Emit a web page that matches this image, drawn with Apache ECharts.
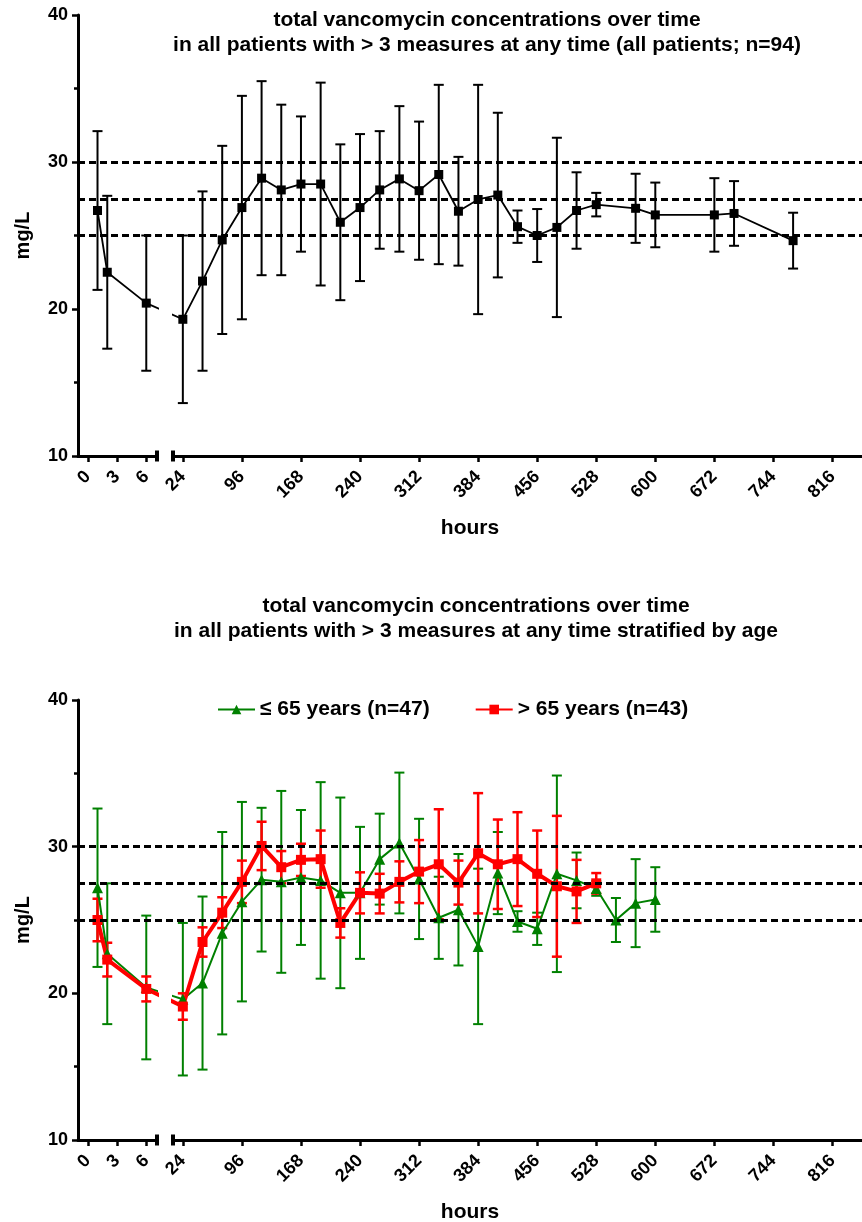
<!DOCTYPE html>
<html>
<head>
<meta charset="utf-8">
<script src="https://cdn.jsdelivr.net/npm/echarts@6/dist/echarts.min.js"></script>
<style>
  html, body { margin: 0; padding: 0; background: #fff; }
  #chart { width: 862px; height: 1222px; }
</style>
</head>
<body>
<div id="chart"></div>
<script>
// ---- data (hours, mean mg/L, SD) ----
const hoursAll = [1, 2, 6, 24, 48, 72, 96, 120, 144, 168, 192, 216, 240, 264, 288, 312, 336, 360, 384, 408, 432, 456, 480, 504, 528, 576, 600, 672, 696, 768];
const meanAll  = [26.7, 22.5, 20.4, 19.3, 21.9, 24.7, 26.9, 28.9, 28.1, 28.5, 28.5, 25.9, 26.9, 28.1, 28.85, 28.05, 29.15, 26.65, 27.45, 27.75, 25.6, 25.0, 25.55, 26.7, 27.1, 26.85, 26.4, 26.4, 26.5, 24.65];
const sdAll    = [5.4, 5.2, 4.6, 5.7, 6.1, 6.4, 7.6, 6.6, 5.8, 4.6, 6.9, 5.3, 5.0, 4.0, 4.95, 4.7, 6.1, 3.7, 7.8, 5.6, 1.1, 1.8, 6.1, 2.6, 0.8, 2.35, 2.2, 2.5, 2.2, 1.9];

const hoursYoung = [1, 2, 6, 24, 48, 72, 96, 120, 144, 168, 192, 216, 240, 264, 288, 312, 336, 360, 384, 408, 432, 456, 480, 504, 528, 552, 576, 600];
const meanYoung  = [27.2, 22.7, 20.4, 19.6, 20.7, 24.1, 26.25, 27.75, 27.6, 27.9, 27.7, 26.85, 26.85, 29.15, 30.25, 27.8, 25.15, 25.7, 23.2, 28.2, 24.9, 24.4, 28.15, 27.7, 27.15, 25.0, 26.15, 26.4];
const sdYoung    = [5.4, 4.8, 4.9, 5.2, 5.9, 6.9, 6.8, 4.9, 6.2, 4.6, 6.7, 6.5, 4.5, 3.1, 4.8, 4.1, 2.8, 3.8, 5.3, 2.8, 0.7, 1.1, 6.7, 1.9, 0.5, 1.5, 3.0, 2.2];

const hoursOld = [1, 2, 6, 24, 48, 72, 96, 120, 144, 168, 192, 216, 240, 264, 288, 312, 336, 360, 384, 408, 432, 456, 480, 504, 528];
const meanOld  = [25.0, 22.3, 20.3, 19.1, 23.5, 25.5, 27.6, 30.05, 28.6, 29.1, 29.15, 24.8, 26.85, 26.8, 27.6, 28.3, 28.8, 27.55, 29.55, 28.8, 29.15, 28.15, 27.3, 26.95, 27.5];
const sdOld    = [1.45, 1.15, 0.85, 0.9, 1.0, 1.05, 1.45, 1.65, 1.1, 1.1, 1.95, 1.0, 1.4, 1.35, 1.4, 2.15, 3.75, 1.5, 4.1, 3.05, 3.2, 2.95, 4.8, 2.15, 0.7];

const xTicksEarly = [0, 3, 6];
const xTicksLate = [24, 96, 168, 240, 312, 384, 456, 528, 600, 672, 744, 816];
const refLevels = [25, 27.5, 30];

const titleTop = 'total vancomycin concentrations over time\nin all patients with > 3 measures at any time (all patients; n=94)';
const titleBottom = 'total vancomycin concentrations over time\nin all patients with > 3 measures at any time stratified by age';
const nameYoung = '≤ 65 years (n=47)';
const nameOld = '> 65 years (n=43)';

// ---- layout ----
const FONT = '"Liberation Sans", Arial, Helvetica, sans-serif';
const X0 = 78, X1 = 157, X2 = 173, X3 = 862;   // broken x axis: [X0,X1] and [X2,X3]
const seg1 = { min: -1, max: 7.1 };
const seg2 = { min: 12, max: 852 };
const pxH1 = (X1 - X0) / (seg1.max - seg1.min);
const pxH2 = (X3 - X2) / (seg2.max - seg2.min);
// carry a point across the axis break so the connecting line is clipped at the gap
function toSeg1(h) { const px = X2 + (h - seg2.min) * pxH2; return seg1.min + (px - X0) / pxH1; }
function toSeg2(h) { const px = X0 + (h - seg1.min) * pxH1; return seg2.min + (px - X2) / pxH2; }

const grid = [], xAxis = [], yAxis = [], series = [];

const axisLineStyle = { color: '#000', width: 3 };
const tickStyle = { color: '#000', width: 2.5 };
const labelStyle = { color: '#000', fontFamily: FONT, fontWeight: 'bold' };

function addPanel(top, bottom) {
  const h = bottom - top;
  const g = grid.length;
  grid.push({ left: X0, top: top, width: X1 - X0, height: h, outerBoundsMode: 'none' });
  grid.push({ left: X2, top: top, width: X3 - X2, height: h, outerBoundsMode: 'none' });
  grid.push({ left: X0, top: top, width: X3 - X0, height: h, outerBoundsMode: 'none' });

  xAxis.push({
    gridIndex: g, type: 'value', min: seg1.min, max: seg1.max,
    axisLine: { onZero: false, lineStyle: axisLineStyle, symbol: ['none', 'rect'], symbolSize: [11, 4] },
    axisTick: { length: 6, lineStyle: tickStyle, customValues: xTicksEarly },
    axisLabel: Object.assign({ rotate: 45, fontSize: 18, margin: 18, customValues: xTicksEarly }, labelStyle),
    splitLine: { show: false }
  });
  xAxis.push({
    gridIndex: g + 1, type: 'value', min: seg2.min, max: seg2.max,
    axisLine: { onZero: false, lineStyle: axisLineStyle, symbol: ['rect', 'none'], symbolSize: [11, 4] },
    axisTick: { length: 6, lineStyle: tickStyle, customValues: xTicksLate },
    axisLabel: Object.assign({ rotate: 45, fontSize: 18, margin: 18, customValues: xTicksLate }, labelStyle),
    splitLine: { show: false }
  });
  xAxis.push({
    gridIndex: g + 2, type: 'value', min: 0, max: 1,
    axisLine: { show: false }, axisTick: { show: false }, axisLabel: { show: false }, splitLine: { show: false },
    name: 'hours', nameLocation: 'middle', nameGap: 62, nameMoveOverlap: false,
    nameTextStyle: { color: '#000', fontFamily: FONT, fontWeight: 'bold', fontSize: 21 }
  });

  yAxis.push({
    gridIndex: g, type: 'value', min: 10, max: 40, interval: 10,
    axisLine: { show: true, onZero: false, lineStyle: axisLineStyle },
    axisTick: { length: 6, lineStyle: tickStyle },
    minorTick: { show: true, splitNumber: 2, length: 4, lineStyle: { color: '#000', width: 2.5 } },
    axisLabel: Object.assign({ fontSize: 18, margin: 10 }, labelStyle),
    splitLine: { show: false }, minorSplitLine: { show: false },
    name: 'mg/L', nameLocation: 'middle', nameGap: 45, nameRotate: 90, nameMoveOverlap: false,
    nameTextStyle: { color: '#000', fontFamily: FONT, fontWeight: 'bold', fontSize: 20 }
  });
  yAxis.push({ gridIndex: g + 1, type: 'value', min: 10, max: 40, show: false, splitLine: { show: false } });
  yAxis.push({ gridIndex: g + 2, type: 'value', min: 10, max: 40, show: false, splitLine: { show: false } });

  series.push({
    type: 'line', xAxisIndex: g + 2, yAxisIndex: g + 2, data: [], silent: true, z: 1,
    markLine: {
      symbol: 'none', silent: true, animation: false, label: { show: false },
      lineStyle: { color: '#000', width: 3, type: [7, 4] },
      data: refLevels.map(v => ({ yAxis: v }))
    }
  });
  return g;
}

function errorBars(color, width, cap) {
  return function (params, api) {
    const x = api.value(0), m = api.value(1), s = api.value(2);
    const hi = api.coord([x, m + s]);
    const lo = api.coord([x, m - s]);
    const st = { stroke: color, lineWidth: width };
    return {
      type: 'group',
      children: [
        { type: 'line', shape: { x1: hi[0], y1: hi[1], x2: lo[0], y2: lo[1] }, style: st },
        { type: 'line', shape: { x1: hi[0] - cap, y1: hi[1], x2: hi[0] + cap, y2: hi[1] }, style: st },
        { type: 'line', shape: { x1: lo[0] - cap, y1: lo[1], x2: lo[0] + cap, y2: lo[1] }, style: st }
      ]
    };
  };
}

function addGroup(g, name, hours, mean, sd, st) {
  const early = [], late = [];
  hours.forEach((h, i) => (h <= seg1.max ? early : late).push(i));
  const first = late[0], last = early[early.length - 1];

  [[g, early], [g + 1, late]].forEach(([ax, idx]) => {
    series.push({
      type: 'custom', name: name + ' SD', xAxisIndex: ax, yAxisIndex: ax, z: 2,
      renderItem: errorBars(st.color, st.barWidth, st.cap),
      encode: { x: 0, y: 1 },
      data: idx.map(i => [hours[i], mean[i], sd[i]])
    });
  });

  const d1 = early.map(i => [hours[i], mean[i]]);
  d1.push({ value: [toSeg1(hours[first]), mean[first]], symbol: 'none' });
  const d2 = late.map(i => [hours[i], mean[i]]);
  d2.unshift({ value: [toSeg2(hours[last]), mean[last]], symbol: 'none' });

  [[g, d1], [g + 1, d2]].forEach(([ax, data]) => {
    series.push({
      type: 'line', name: name, xAxisIndex: ax, yAxisIndex: ax, z: 3,
      data: data, clip: true,
      symbol: st.symbol, symbolSize: st.size, showSymbol: true,
      lineStyle: { color: st.color, width: st.lineWidth },
      itemStyle: { color: st.color },
      emphasis: { disabled: true }
    });
  });
}

const gTop = addPanel(15, 456);
const gBot = addPanel(700, 1140);

addGroup(gTop, 'all patients', hoursAll, meanAll, sdAll,
  { color: '#000', lineWidth: 1.8, barWidth: 2, cap: 5, symbol: 'rect', size: 9 });
addGroup(gBot, nameYoung, hoursYoung, meanYoung, sdYoung,
  { color: '#008000', lineWidth: 2, barWidth: 2, cap: 5, symbol: 'triangle', size: 11 });
addGroup(gBot, nameOld, hoursOld, meanOld, sdOld,
  { color: '#ff0000', lineWidth: 4, barWidth: 2.5, cap: 5, symbol: 'rect', size: 10 });

const option = {
  animation: false,
  backgroundColor: '#fff',
  title: [
    { text: titleTop, left: 482, top: 3, textAlign: 'center',
      textStyle: { color: '#000', fontFamily: FONT, fontWeight: 'bold', fontSize: 21, lineHeight: 25 } },
    { text: titleBottom, left: 471, top: 589, textAlign: 'center',
      textStyle: { color: '#000', fontFamily: FONT, fontWeight: 'bold', fontSize: 21, lineHeight: 25 } }
  ],
  legend: {
    data: [nameYoung, nameOld], top: 694, left: 212,
    itemWidth: 37, itemHeight: 12, itemGap: 45,
    textStyle: { color: '#000', fontFamily: FONT, fontWeight: 'bold', fontSize: 21 },
    selectedMode: false
  },
  grid: grid, xAxis: xAxis, yAxis: yAxis, series: series
};

const chart = echarts.init(document.getElementById('chart'), null, { renderer: 'canvas' });
chart.setOption(option);
</script>
</body>
</html>
